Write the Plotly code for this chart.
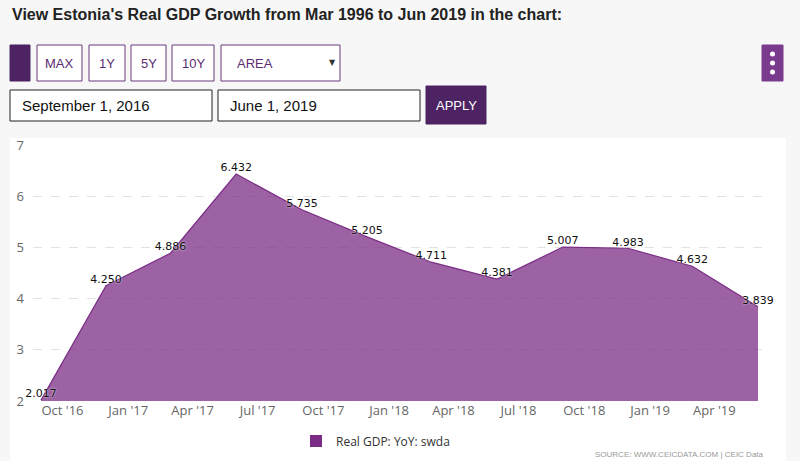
import plotly.graph_objects as go

# ---- data ----
dates = ["2016-09-01", "2016-12-01", "2017-03-01", "2017-06-01", "2017-09-01", "2017-12-01",
         "2018-03-01", "2018-06-01", "2018-09-01", "2018-12-01", "2019-03-01", "2019-06-01"]
gdp_yoy = [2.017, 4.250, 4.886, 6.432, 5.735, 5.205, 4.711, 4.381, 5.007, 4.983, 4.632, 3.839]
tick_dates = ["2016-10-01", "2017-01-01", "2017-04-01", "2017-07-01", "2017-10-01", "2018-01-01",
              "2018-04-01", "2018-07-01", "2018-10-01", "2019-01-01", "2019-04-01"]
tick_labels = ["Oct '16", "Jan '17", "Apr '17", "Jul '17", "Oct '17", "Jan '18",
               "Apr '18", "Jul '18", "Oct '18", "Jan '19", "Apr '19"]
y_ticks = [2, 3, 4, 5, 6, 7]
series_name = "Real GDP: YoY: swda"

W, H = 800, 461
L, R, T, B = 33, 35, 145, 60
PW, PH = W - L - R, H - T - B


def px(x):
    return (x - L) / PW


def py(y):
    return (H - B - y) / PH


NARROW = "Liberation Sans Narrow, Arial Narrow, Liberation Sans, Arial"
PURPLE_D = "#4d2363"
PURPLE_T = "#5b2c72"
SERIES_C = "#7b2d86"

fig = go.Figure()
fig.add_trace(go.Scatter(
    x=dates, y=gdp_yoy, mode="lines+text", name=series_name, showlegend=False,
    line=dict(color=SERIES_C, width=1.2),
    fill="tozeroy", fillcolor="rgba(123,45,134,0.75)",
    text=[f"{v:.3f}" for v in gdp_yoy], textposition="top center",
    textfont=dict(family="DejaVu Sans", size=11, color="#111",
                  shadow="0px 0px 2px white"),
    cliponaxis=False, hoverinfo="skip",
))
# legend entry (square swatch)
fig.add_trace(go.Scatter(
    x=[None], y=[None], mode="markers", name=series_name,
    marker=dict(symbol="square", size=12, color=SERIES_C),
))

shapes = []
annotations = []


def rect(x0, y0, x1, y1, fill="white", line="rgba(0,0,0,0)", lw=1, layer="above"):
    shapes.append(dict(type="rect", xref="paper", yref="paper",
                       x0=px(x0), x1=px(x1), y0=py(y1), y1=py(y0),
                       fillcolor=fill, line=dict(color=line, width=lw), layer=layer))


def text(x, y, s, size=13, color="#333", family=NARROW, xanchor="left", bold=False):
    annotations.append(dict(xref="paper", yref="paper", x=px(x), y=py(y), text=(f"<b>{s}</b>" if bold else s),
                            showarrow=False, xanchor=xanchor, yanchor="middle",
                            font=dict(size=size, color=color, family=family)))


# chart panel
rect(10, 138, 786, 470, fill="white", layer="below")

# title
text(10, 14, "View Estonia's Real GDP Growth from Mar 1996 to Jun 2019 in the chart:",
     size=16, color="#222", family="Liberation Sans, Arial", bold=True)

# button row
rect(10, 45, 30, 81, fill=PURPLE_D, line=PURPLE_D)
for (x0, x1, lab) in [(37, 82, "MAX"), (89, 125, "1Y"), (131, 166, "5Y"), (172, 214, "10Y")]:
    rect(x0, 45, x1, 81, fill="white", line="#6b3a80", lw=1)
    text((x0 + x1) / 2, 63, lab, size=13, color=PURPLE_T, xanchor="center")
rect(221, 45, 340, 81, fill="white", line="#6b3a80", lw=1)
text(235, 63, "AREA", size=13, color=PURPLE_T)
text(332, 62, "▼", size=8, color="#333", family="DejaVu Sans", xanchor="center")

# right menu button
rect(762, 45, 783, 81, fill="#7a3a8e", line="#7a3a8e")
for yy in (54, 63, 72):
    shapes.append(dict(type="circle", xref="paper", yref="paper",
                       x0=px(770), x1=px(775), y0=py(yy + 2.5), y1=py(yy - 2.5),
                       fillcolor="white", line=dict(width=0)))

# date inputs
rect(10, 90, 212, 121, fill="white", line="#222", lw=1)
text(20, 105, "September 1, 2016", size=15, color="#111")
rect(218, 90, 420, 121, fill="white", line="#222", lw=1)
text(228, 105, "June 1, 2019", size=15, color="#111")
rect(426, 86, 486, 124, fill=PURPLE_D, line=PURPLE_D)
text(456, 105, "APPLY", size=13, color="white", xanchor="center")

# source
text(766, 454, "SOURCE: WWW.CEICDATA.COM | CEIC Data", size=8, color="#999", xanchor="right")

fig.update_layout(
    width=W, height=H,
    margin=dict(l=L, r=R, t=T, b=B, pad=0, autoexpand=False),
    paper_bgcolor="#f7f7f7", plot_bgcolor="white",
    shapes=shapes, annotations=annotations,
    showlegend=True,
    legend=dict(orientation="h", x=px(296), y=py(441), xanchor="left", yanchor="middle",
                font=dict(family="Open Sans", size=12, color="#333"), bgcolor="rgba(0,0,0,0)"),
    xaxis=dict(type="date", range=["2016-08-20 19:00", "2019-06-10 19:00"],
               tickvals=tick_dates, ticktext=tick_labels, showgrid=False, zeroline=False,
               showline=False, ticks="", automargin=False,
               tickfont=dict(family="Open Sans", size=13, color="#666")),
    yaxis=dict(range=[2, 7], tickvals=y_ticks, showgrid=True, gridcolor="#e2e2e2",
               griddash="dash", gridwidth=1, zeroline=False, showline=False, ticks="",
               ticklabelstandoff=8, automargin=False,
               tickfont=dict(family="Open Sans", size=13, color="#666")),
)

fig.write_html("out.html", config={"displayModeBar": False},
               post_script="document.body.style.margin='0';document.body.style.background='#f7f7f7';")
